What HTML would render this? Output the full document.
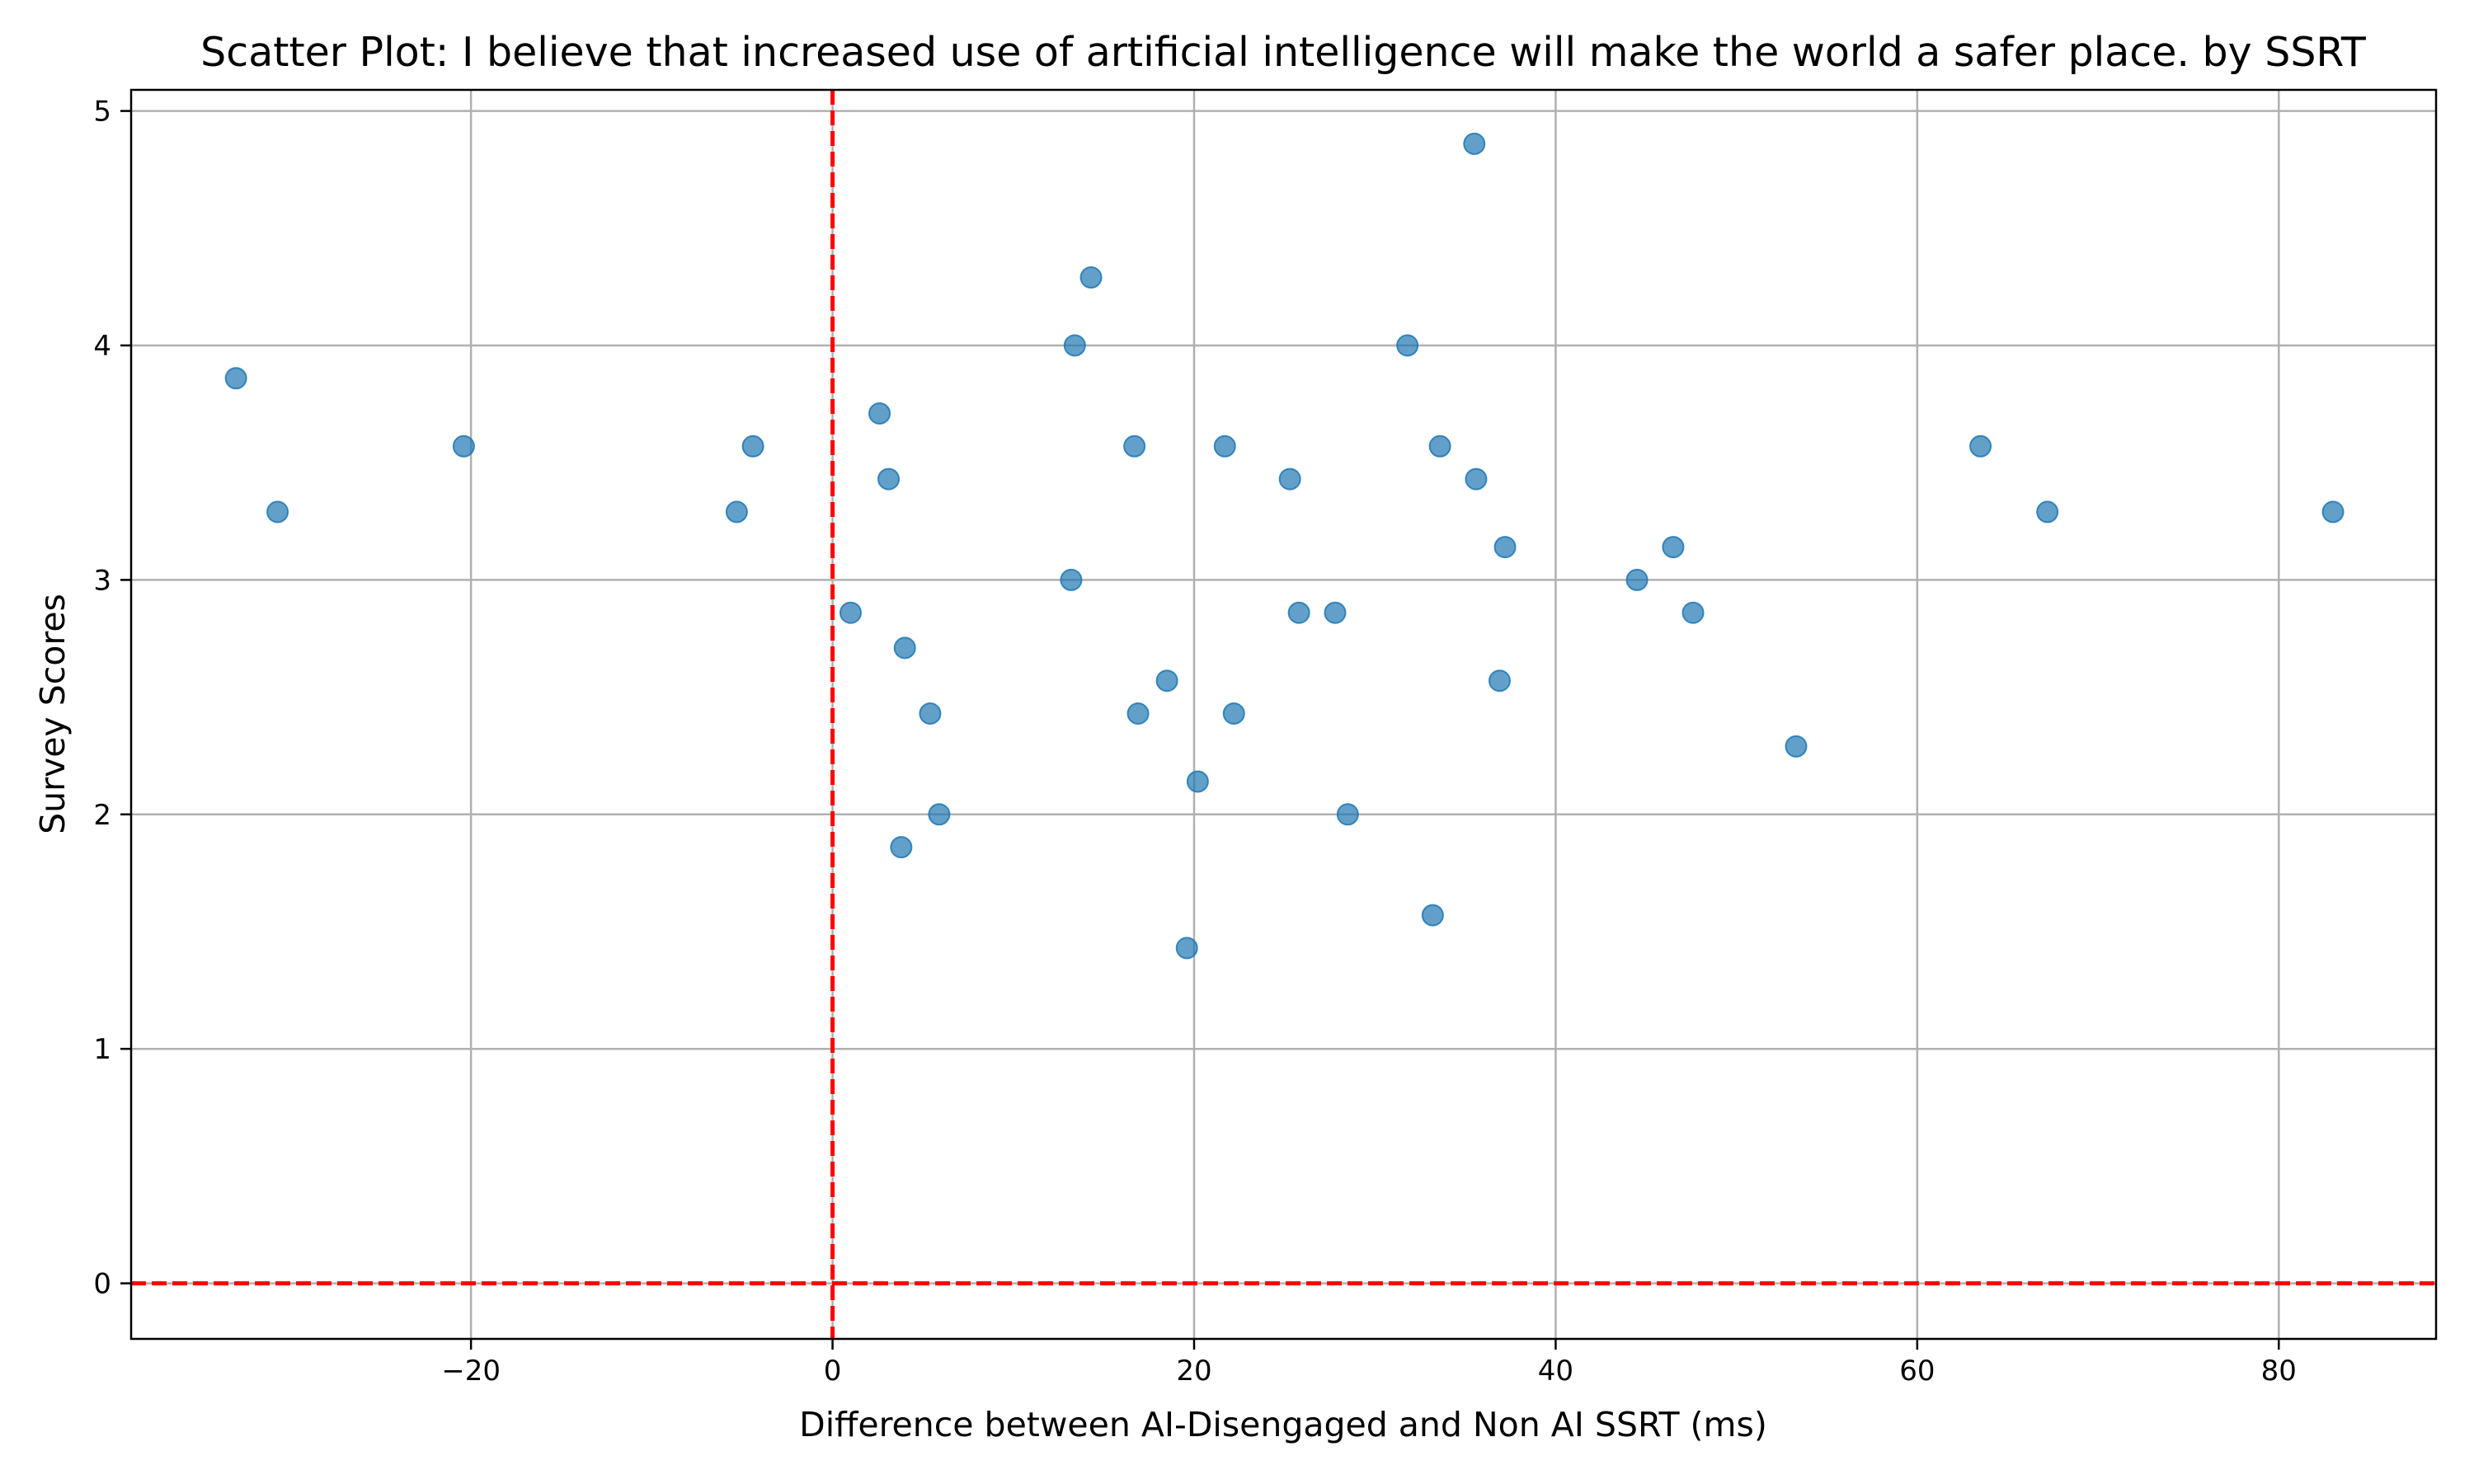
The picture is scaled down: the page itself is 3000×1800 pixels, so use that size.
<!DOCTYPE html>
<html><head><meta charset="utf-8"><style>
html,body{margin:0;padding:0;background:#fff;width:3000px;height:1800px;overflow:hidden}
svg text{font-family:"DejaVu Sans","Liberation Sans",sans-serif;fill:#000}
</style></head><body>
<svg id="chart" width="3000" height="1800" viewBox="0 0 3000 1800" xmlns="http://www.w3.org/2000/svg">
<text x="1556" y="80" font-size="49" text-anchor="middle">Scatter Plot: I believe that increased use of artificial intelligence will make the world a safer place. by SSRT</text>
<g id="grid"></g>
<g id="refs"></g>
<g id="points"></g>
<g id="axes"></g>
<text x="1556" y="1742" font-size="41" text-anchor="middle">Difference between AI-Disengaged and Non AI SSRT (ms)</text>
<text x="0" y="0" font-size="41" text-anchor="middle" transform="translate(78,866) rotate(-90)">Survey Scores</text>
</svg>
<script>
const xValues=[-33.0,-30.7,-20.4,-5.3,-4.4,2.6,3.1,1.0,4.0,5.4,3.8,5.9,13.4,14.3,13.2,16.7,16.9,18.5,19.6,20.2,21.7,22.2,25.3,25.8,27.8,28.5,31.8,33.6,33.2,35.5,35.6,36.9,37.2,44.5,46.5,47.6,53.3,63.5,67.2,83.0];
const yValues=[3.86,3.29,3.57,3.29,3.57,3.71,3.43,2.86,2.71,2.43,1.86,2.0,4.0,4.29,3.0,3.57,2.43,2.57,1.43,2.14,3.57,2.43,3.43,2.86,2.86,2.0,4.0,3.57,1.57,4.86,3.43,2.57,3.14,3.0,3.14,2.86,2.29,3.57,3.29,3.29];
const xTicks=[-20,0,20,40,60,80];
const yTicks=[0,1,2,3,4,5];
const xTickLabels=["\u221220","0","20","40","60","80"];
const yTickLabels=["0","1","2","3","4","5"];
const L=159,R=2954,T=109,B=1624;
const xMin=-38.8,xMax=88.7,yMin=-0.237,yMax=5.09;
const sx=v=>L+(v-xMin)/(xMax-xMin)*(R-L);
const sy=v=>B-(v-yMin)/(yMax-yMin)*(B-T);
const NS="http://www.w3.org/2000/svg";
function mk(tag,parent,attrs){const e=document.createElementNS(NS,tag);for(const k in attrs)e.setAttribute(k,attrs[k]);parent.appendChild(e);return e;}
const grid=document.getElementById('grid'),axes=document.getElementById('axes'),refs=document.getElementById('refs'),pts=document.getElementById('points');
xTicks.forEach((t,i)=>{
 const g=mk('line',grid,{x1:sx(t),x2:sx(t),y1:T,y2:B,stroke:'#b0b0b0','stroke-width':2.5});
 
 
 const tk=mk('line',axes,{x1:sx(t),x2:sx(t),y1:B,y2:B+13,stroke:'#000','stroke-width':2.5});
 
 
 const lb=mk('text',axes,{x:sx(t),y:B+50,'font-size':34,'text-anchor':'middle'});
 lb.textContent=xTickLabels[i];
 
 
});
yTicks.forEach((t,i)=>{
 const g=mk('line',grid,{x1:L,x2:R,y1:sy(t),y2:sy(t),stroke:'#b0b0b0','stroke-width':2.5});
 
 
 const tk=mk('line',axes,{x1:L-13,x2:L,y1:sy(t),y2:sy(t),stroke:'#000','stroke-width':2.5});
 
 
 const lb=mk('text',axes,{x:L-24,y:sy(t)+12,'font-size':34,'text-anchor':'end'});
 lb.textContent=yTickLabels[i];
 
 
});
const vr=mk('line',refs,{x1:sx(0),x2:sx(0),y1:T,y2:B,stroke:'#ff0000','stroke-width':5,'stroke-dasharray':'18,7'});


const hr=mk('line',refs,{x1:L,x2:R,y1:sy(0),y2:sy(0),stroke:'#ff0000','stroke-width':5,'stroke-dasharray':'18,7'});


xValues.forEach((x,i)=>{
 const c=mk('circle',pts,{cx:sx(x),cy:sy(yValues[i]),r:12.5,fill:'rgba(31,119,180,0.7)',stroke:'rgba(31,119,180,0.85)','stroke-width':2});
 
 
});
const fr=mk('rect',axes,{x:L,y:T,width:R-L,height:B-T,fill:'none',stroke:'#000','stroke-width':2.5});


</script>
</body></html>
